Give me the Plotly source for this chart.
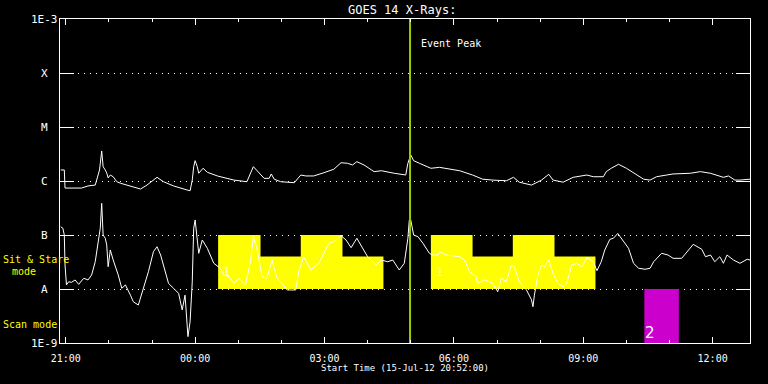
import math
import pandas as pd
import plotly.graph_objects as go

# ---------------- data ----------------
start = pd.Timestamp("2012-07-15 20:52:00")
span_hours = 16

# GOES 14 long channel (1-8 A), minutes after start, flux in 1e-6 W/m^2
long_min = [1, 6, 7, 30, 39, 49, 51, 55, 58, 60,
            63, 65, 67, 70, 74, 79, 84, 93, 112, 121,
            135, 144, 158, 177, 181, 184, 186, 188, 191, 193,
            199, 205, 219, 242, 260, 269, 277, 284, 291, 294,
            298, 307, 326, 335, 342, 353, 367, 381, 391, 400,
            407, 413, 423, 437, 447, 456, 465, 481, 484, 488,
            492, 500, 516, 528, 537, 556, 574, 588, 602, 621,
            631, 639, 656, 670, 680, 686, 700, 714, 733, 742,
            756, 760, 767, 777, 788, 802, 812, 821, 830, 844,
            853, 877, 891, 905, 916, 923, 930, 939, 946, 960]
long_flux_e6 = [1.60, 1.60, 0.74, 0.74, 0.81, 0.84, 1.04, 1.60, 3.6, 1.84,
                1.60, 1.41, 1.14, 1.29, 1.20, 0.97, 0.91, 0.84, 0.71, 0.84,
                1.17, 0.97, 0.81, 0.68, 0.66, 1.04, 1.84, 2.38, 1.84, 1.39,
                1.72, 1.45, 1.24, 1.04, 0.97, 1.84, 1.39, 1.12, 1.12, 1.35,
                1.08, 0.97, 0.93, 1.29, 1.24, 1.24, 1.42, 1.65, 2.18, 2.13,
                1.98, 2.28, 1.98, 1.49, 1.55, 1.49, 1.39, 1.29, 2.13, 3.03,
                2.38, 2.13, 1.72, 1.79, 1.72, 1.55, 1.29, 1.08, 1.04, 1.01,
                1.17, 0.95, 0.84, 1.04, 1.33, 1.04, 0.95, 1.17, 1.29, 1.20,
                1.20, 1.49, 1.72, 2.04, 1.72, 1.29, 1.08, 1.04, 1.20, 1.29,
                1.35, 1.39, 1.49, 1.39, 1.24, 1.17, 1.24, 1.04, 1.04, 1.08]

# GOES 14 short channel (0.5-4 A), minutes after start, flux in 1e-8 W/m^2
short_min = [1, 4, 6, 7, 9, 12, 16, 21, 26, 33,
             39, 44, 49, 53, 56, 58, 60, 63, 65, 67,
             70, 74, 81, 86, 91, 98, 102, 109, 116, 123,
             130, 135, 140, 147, 151, 158, 165, 170, 174, 178,
             181, 184, 186, 188, 191, 193, 198, 205, 214, 223,
             228, 235, 242, 249, 258, 265, 269, 274, 281, 288,
             295, 302, 309, 316, 328, 332, 339, 349, 360, 367,
             374, 381, 391, 398, 405, 413, 421, 428, 440, 447,
             456, 463, 472, 479, 484, 486, 488, 492, 498, 505,
             514, 518, 526, 528, 537, 547, 556, 563, 570, 579,
             581, 591, 602, 609, 614, 621, 628, 632, 639, 649,
             656, 658, 660, 665, 670, 674, 680, 686, 693, 700,
             705, 712, 719, 726, 733, 742, 747, 753, 758, 765,
             770, 776, 781, 791, 798, 805, 814, 821, 826, 832,
             837, 846, 853, 865, 872, 881, 893, 898, 905, 911,
             918, 923, 928, 937, 946, 956, 960]
short_flux_e8 = [14.2, 13.3, 10.0, 2.78, 1.19, 1.36, 1.33, 1.47, 1.22, 1.58,
                 1.47, 1.82, 3.20, 6.53, 13.3, 38.6, 10.0, 8.69, 6.53, 2.59,
                 5.28, 3.44, 1.82, 1.03, 1.19, 0.77, 0.58, 0.505, 1.03, 2.09,
                 4.91, 6.07, 4.26, 1.82, 1.27, 1.03, 0.83, 0.41, 0.77, 0.131,
                 0.248, 1.36, 13.3, 19.0, 8.69, 4.58, 8.08, 5.67, 2.99, 2.42,
                 1.82, 1.69, 1.27, 1.58, 1.19, 3.20, 9.30, 5.67, 1.69, 1.58,
                 3.44, 1.58, 1.27, 0.96, 0.96, 2.09, 3.96, 2.25, 2.99, 4.58,
                 7.02, 7.52, 9.70, 8.08, 5.82, 8.69, 5.67, 3.96, 2.78, 3.44,
                 3.20, 3.44, 2.25, 2.99, 8.69, 19.0, 19.0, 10.0, 9.30, 7.02,
                 4.58, 4.26, 4.26, 4.91, 4.26, 4.14, 3.96, 3.44, 2.09, 1.69,
                 1.27, 1.47, 1.27, 0.89, 1.58, 1.36, 2.78, 2.59, 1.36, 0.96,
                 0.63, 0.47, 0.77, 1.82, 2.78, 2.59, 3.44, 1.95, 1.27, 1.10,
                 1.27, 2.78, 2.99, 2.59, 3.80, 3.20, 2.18, 3.20, 5.28, 8.32,
                 8.69, 10.7, 8.69, 5.67, 2.99, 2.42, 2.32, 2.42, 3.20, 3.86,
                 4.58, 4.26, 3.70, 3.70, 4.91, 6.71, 5.43, 3.96, 4.26, 3.20,
                 3.96, 2.99, 4.26, 3.44, 2.99, 3.55, 3.44]

# Sit & Stare mode blocks (minutes after start) and their levels
ss_start_min = [220, 279, 335, 393, 516, 574, 630, 688]
ss_end_min = [279, 335, 393, 450, 574, 630, 688, 745]
ss_top = [1.0e-7, 4.0e-8, 1.0e-7, 4.0e-8, 1.0e-7, 4.0e-8, 1.0e-7, 4.0e-8]
ss_base = 1.0e-8
ss_labels = [(220, "1"), (516, "1")]

# Scan mode block
scan_start_min = [813]
scan_end_min = [861]
scan_low, scan_high = 1.0e-9, 1.0e-8
scan_label = "2"

event_peak_min = 487

y_tickvals = [1e-9, 1e-8, 1e-7, 1e-6, 1e-5, 1e-4, 1e-3]
y_ticktext = ["1E-9", "A", "B", "C", "M", "X", "1E-3"]


def T(m):
    return start + pd.Timedelta(minutes=m)


end = start + pd.Timedelta(hours=span_hours)

fig = go.Figure()

# Sit & Stare blocks (yellow)
bx, by = [], []
for s, e, top in zip(ss_start_min, ss_end_min, ss_top):
    bx += [T(s), T(s), T(e), T(e), T(s), None]
    by += [ss_base, top, top, ss_base, ss_base, None]
fig.add_trace(go.Scatter(x=bx, y=by, mode="lines", fill="toself",
                         fillcolor="#ffff00", line=dict(width=0, color="#ffff00"),
                         hoverinfo="skip"))

# Scan mode block (magenta)
mx, my = [], []
for s, e in zip(scan_start_min, scan_end_min):
    mx += [T(s), T(s), T(e), T(e), T(s), None]
    my += [scan_low, scan_high, scan_high, scan_low, scan_low, None]
fig.add_trace(go.Scatter(x=mx, y=my, mode="lines", fill="toself",
                         fillcolor="#cc00cc", line=dict(width=0, color="#cc00cc"),
                         hoverinfo="skip"))

# Curves
fig.add_trace(go.Scatter(x=[T(m) for m in long_min],
                         y=[v * 1e-6 for v in long_flux_e6],
                         mode="lines", line=dict(color="white", width=1)))
fig.add_trace(go.Scatter(x=[T(m) for m in short_min],
                         y=[v * 1e-8 for v in short_flux_e8],
                         mode="lines", line=dict(color="white", width=1)))

# Event peak line
fig.add_trace(go.Scatter(x=[T(event_peak_min), T(event_peak_min)], y=[1e-9, 1e-3],
                         mode="lines", line=dict(color="#99cc00", width=2)))

fig.update_layout(
    width=768, height=384,
    margin=dict(l=60, r=18, t=19, b=41),
    paper_bgcolor="black", plot_bgcolor="black",
    font=dict(family="DejaVu Sans Mono", color="white", size=10),
    showlegend=False,
)

fig.update_xaxes(
    type="date", range=[start, end],
    showline=True, linecolor="white", linewidth=1, mirror="ticks",
    ticks="inside", ticklen=6, tickcolor="white", tickwidth=1,
    tick0="2012-07-15 21:00:00", dtick=3 * 3600 * 1000, tickformat="%H:%M",
    tickfont=dict(size=10, color="white", family="DejaVu Sans Mono"),
    ticklabelstandoff=6,
    minor=dict(ticks="inside", ticklen=3, dtick=3600 * 1000,
               tick0="2012-07-15 21:00:00", tickcolor="white", showgrid=False),
    showgrid=False, zeroline=False,
)
fig.update_yaxes(
    type="log", range=[-9, -3],
    showline=True, linecolor="white", linewidth=1, mirror="ticks",
    ticks="inside", ticklen=14, tickcolor="white", tickwidth=1,
    tickvals=y_tickvals, showticklabels=False,
    showgrid=True, gridcolor="white", gridwidth=1, griddash="1px,5px",
    zeroline=False,
)

ann = []
for v, txt in zip(y_tickvals, y_ticktext):
    ann.append(dict(x=0, xref="paper", xshift=-16, xanchor="center",
                    y=math.log10(v), yref="y", yanchor="middle",
                    text=txt, showarrow=False,
                    font=dict(size=11, color="white", family="DejaVu Sans Mono")))

plot_w, plot_h = 690, 324


def px(xp):
    return (xp - 60) / plot_w


def py(yp):
    return (343 - yp) / plot_h


yellow = dict(size=10, color="#ffff00", family="DejaVu Sans Mono")
ann += [
    dict(x=px(1), y=py(259), xref="paper", yref="paper", xanchor="left", yanchor="middle",
         text="Sit & Stare", showarrow=False, font=yellow),
    dict(x=px(10), y=py(271), xref="paper", yref="paper", xanchor="left", yanchor="middle",
         text="mode", showarrow=False, font=yellow),
    dict(x=px(1), y=py(324), xref="paper", yref="paper", xanchor="left", yanchor="middle",
         text="Scan mode", showarrow=False, font=yellow),
    dict(x=px(402), y=py(10), xref="paper", yref="paper", xanchor="center", yanchor="middle",
         text="GOES 14 X-Rays:", showarrow=False,
         font=dict(size=12, color="white", family="DejaVu Sans Mono")),
    dict(x=px(405), y=py(368), xref="paper", yref="paper", xanchor="center", yanchor="middle",
         text="Start Time (15-Jul-12 20:52:00)", showarrow=False,
         font=dict(size=9, color="white", family="DejaVu Sans Mono")),
    dict(x=T(event_peak_min), xref="x", xshift=9, xanchor="left",
         y=py(43), yref="paper", yanchor="middle",
         text="Event Peak", showarrow=False,
         font=dict(size=10, color="white", family="DejaVu Sans Mono")),
]
for m, lab in ss_labels:
    ann.append(dict(x=T(m), xref="x", xshift=3, xanchor="left",
                    y=py(272), yref="paper", yanchor="middle",
                    text=lab, showarrow=False,
                    font=dict(size=12, color="#ffffcc", family="DejaVu Sans")))
ann.append(dict(x=T(scan_start_min[0]), xref="x", xshift=-1, xanchor="left",
                y=py(333), yref="paper", yanchor="middle",
                text=scan_label, showarrow=False,
                font=dict(size=15, color="white", family="DejaVu Sans")))

fig.update_layout(annotations=ann)

fig.write_html("out.html", config={"displayModeBar": False},
               post_script="document.body.style.margin='0px';")
